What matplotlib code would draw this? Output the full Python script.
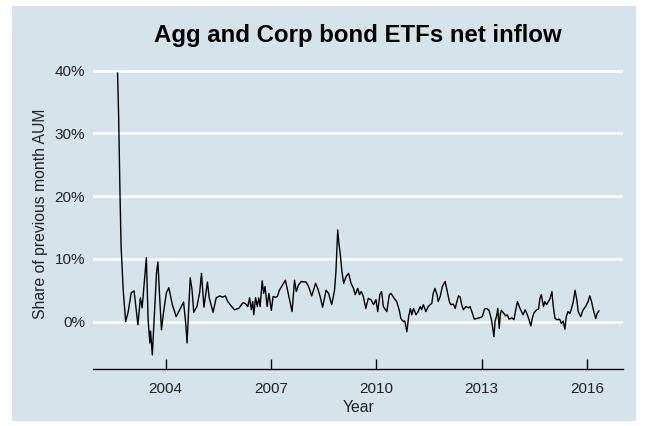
import matplotlib
matplotlib.use("Agg")
import matplotlib.pyplot as plt
from matplotlib.patches import Rectangle

# decimal year, net inflow as % of previous month AUM
years = [
    2002.63, 2002.66, 2002.70, 2002.73, 2002.76, 2002.79, 2002.86, 2002.93,
    2003.02, 2003.10, 2003.21, 2003.28, 2003.33, 2003.45, 2003.50, 2003.55,
    2003.57, 2003.62, 2003.67, 2003.74, 2003.78, 2003.83, 2003.88, 2003.94,
    2004.02, 2004.09, 2004.19, 2004.30, 2004.40, 2004.51, 2004.57, 2004.61,
    2004.65, 2004.70, 2004.75, 2004.80, 2004.89, 2004.97, 2005.02, 2005.09,
    2005.19, 2005.24, 2005.35, 2005.44, 2005.54, 2005.62, 2005.70, 2005.77,
    2005.88, 2005.96, 2006.08, 2006.20, 2006.27, 2006.34, 2006.39, 2006.44,
    2006.48, 2006.51, 2006.56, 2006.61, 2006.65, 2006.69, 2006.75, 2006.79,
    2006.83, 2006.89, 2006.94, 2007.01, 2007.06, 2007.12, 2007.18, 2007.24,
    2007.41, 2007.48, 2007.60, 2007.67, 2007.72, 2007.78, 2007.86, 2008.00,
    2008.07, 2008.16, 2008.27, 2008.33, 2008.40, 2008.47, 2008.57, 2008.64,
    2008.73, 2008.81, 2008.85, 2008.90, 2008.93, 2008.97, 2009.02, 2009.07,
    2009.14, 2009.21, 2009.28, 2009.35, 2009.40, 2009.47, 2009.52, 2009.57,
    2009.63, 2009.70, 2009.77, 2009.85, 2009.92, 2009.99, 2010.04, 2010.10,
    2010.15, 2010.20, 2010.30, 2010.37, 2010.42, 2010.51, 2010.58, 2010.65,
    2010.70, 2010.77, 2010.81, 2010.87, 2010.92, 2010.97, 2011.01, 2011.06,
    2011.13, 2011.19, 2011.25, 2011.29, 2011.34, 2011.41, 2011.48, 2011.53,
    2011.58, 2011.62, 2011.67, 2011.73, 2011.76, 2011.82, 2011.88, 2011.96,
    2012.03, 2012.08, 2012.12, 2012.19, 2012.25, 2012.28, 2012.34, 2012.39,
    2012.43, 2012.48, 2012.55, 2012.62, 2012.67, 2012.72, 2012.79, 2012.86,
    2012.93, 2013.02, 2013.08, 2013.14, 2013.21, 2013.28, 2013.35, 2013.38,
    2013.43, 2013.46, 2013.50, 2013.53, 2013.56, 2013.62, 2013.69, 2013.73,
    2013.78, 2013.86, 2013.92, 2013.97, 2014.02, 2014.07, 2014.11, 2014.18,
    2014.24, 2014.30, 2014.35, 2014.40, 2014.44, 2014.49, 2014.57, 2014.62,
    2014.66, 2014.70, 2014.76, 2014.80, 2014.85, 2014.90, 2014.95, 2015.00,
    2015.04, 2015.09, 2015.15, 2015.22, 2015.27, 2015.32, 2015.37, 2015.41,
    2015.46, 2015.51, 2015.55, 2015.61, 2015.66, 2015.71, 2015.75, 2015.82,
    2015.89, 2015.96, 2016.03, 2016.08, 2016.13, 2016.18, 2016.25, 2016.29,
    2016.34,
]
inflow = [
    39.6, 32.9, 20.2, 12.1, 8.6, 5.1, 0.0, 1.5,
    4.6, 4.9, -0.5, 3.8, 2.2, 10.2, 0.3, -3.4,
    -1.5, -5.3, 0.3, 7.8, 9.5, 3.8, -1.3, 1.5,
    4.6, 5.4, 2.7, 0.8, 1.9, 3.1, -0.2, -3.4,
    1.4, 7.0, 5.1, 1.5, 2.4, 4.7, 7.7, 2.3,
    6.3, 3.8, 1.5, 3.8, 4.1, 3.9, 4.1, 3.2,
    2.4, 1.9, 2.1, 3.0, 2.9, 2.4, 3.8, 1.9,
    3.2, 1.1, 3.8, 2.4, 3.8, 2.4, 6.5, 4.5,
    5.6, 2.4, 4.5, 1.8, 4.0, 3.9, 4.0, 5.0,
    6.6, 4.8, 1.6, 6.6, 4.8, 5.8, 6.4, 6.3,
    5.6, 4.1, 6.1, 5.3, 4.0, 2.3, 5.0, 4.5,
    2.7, 5.0, 8.0, 14.6, 12.7, 10.9, 8.0, 6.1,
    7.2, 7.7, 6.1, 5.3, 4.3, 5.3, 4.3, 4.8,
    4.0, 2.1, 3.7, 3.5, 2.7, 3.5, 1.6, 4.3,
    4.8, 2.4, 1.6, 4.3, 4.5, 3.7, 3.2, 1.9,
    0.5, 0.0, 0.1, -1.6, 0.8, 2.1, 1.1, 2.1,
    1.1, 1.6, 2.4, 1.9, 2.7, 1.6, 2.4, 2.7,
    2.9, 4.5, 5.3, 4.3, 3.2, 4.0, 5.6, 6.4,
    4.5, 3.2, 2.7, 2.8, 2.1, 2.9, 4.1, 3.9,
    2.7, 1.9, 2.4, 2.2, 2.4, 1.6, 0.4, 0.5,
    0.6, 0.8, 2.0, 2.1, 1.8, 0.3, -2.4, 0.0,
    1.0, 2.1, -1.1, 1.1, 1.8, 1.4, 0.9, 1.1,
    0.4, 0.6, 0.3, 1.9, 3.2, 2.4, 1.9, 1.1,
    1.9, 1.1, 0.3, -0.7, 0.5, 1.4, 1.9, 2.0,
    3.7, 4.3, 2.4, 3.2, 2.7, 3.2, 3.7, 4.8,
    2.4, 0.5, 0.3, 0.4, -0.3, 0.1, -1.2, 0.8,
    1.6, 1.3, 1.9, 3.2, 5.0, 3.5, 1.6, 0.8,
    1.9, 2.4, 3.2, 4.1, 3.2, 1.9, 0.5, 1.3,
    1.7,
]
x_ticks = [2004, 2007, 2010, 2013, 2016]
y_ticks = [0, 10, 20, 30, 40]

BG = "#d5e4eb"
plt.rcParams["font.family"] = ["Liberation Sans", "DejaVu Sans"]

fig = plt.figure(figsize=(6.47, 4.26), dpi=100)
fig.patch.set_facecolor("white")
fig.add_artist(Rectangle((0.0185, 0.0117), 0.9645, 0.974, transform=fig.transFigure,
                         facecolor=BG, edgecolor="none", zorder=-10))

ax = fig.add_axes([0.1445, 0.1338, 0.8184, 0.7277])
ax.set_zorder(1)
ax.set_facecolor(BG)
ax.plot(years, inflow, color="black", lw=1.0, zorder=3)
ax.margins(x=0.05, y=0.05)

ax.set_yticks(y_ticks)
ax.set_yticklabels([f"{v}%" for v in y_ticks])
ax.set_xticks(x_ticks)
ax.set_xticklabels([str(v) for v in x_ticks])
ax.grid(axis="y", color="white", lw=1.8, zorder=1)
ax.set_axisbelow(True)

for side in ["top", "right", "left"]:
    ax.spines[side].set_visible(False)
ax.spines["bottom"].set_color("black")
ax.spines["bottom"].set_linewidth(1.0)
ax.spines["bottom"].set_zorder(4)
ax.tick_params(axis="x", direction="in", length=7, width=1.0, color="black",
               labelsize=11, labelcolor="#222222", pad=9.5)
ax.tick_params(axis="y", length=0, labelsize=11, labelcolor="#222222", pad=6)
for t in ax.xaxis.get_major_ticks():
    t.tick1line.set_zorder(5)

ax.set_xlabel("Year", fontsize=11.3, color="#222222", labelpad=3)
ax.set_ylabel("Share of previous month AUM", fontsize=11.3, color="#222222", labelpad=5)
ax.set_title("Agg and Corp bond ETFs net inflow", fontsize=17.3, fontweight="bold",
             color="black", pad=12)

fig.savefig("out.png", dpi=100, facecolor=fig.get_facecolor())
